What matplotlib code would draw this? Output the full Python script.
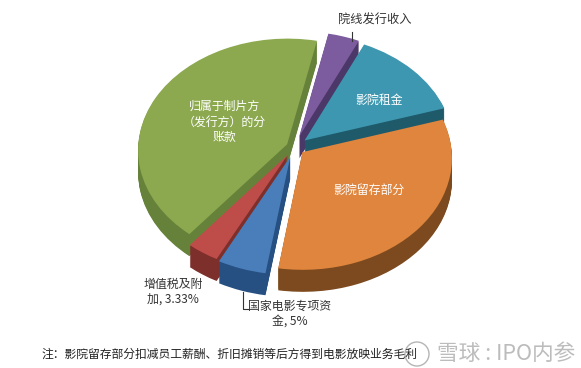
import numpy as np
import matplotlib
matplotlib.use("Agg")
import matplotlib.pyplot as plt
from matplotlib.patches import Circle
from matplotlib.transforms import Affine2D, IdentityTransform, Transform

plt.rcParams["font.family"] = ["Noto Sans CJK SC", "DejaVu Sans"]

# --- data, clockwise from the purple slice ---
names = ["院线发行收入", "影院租金", "影院留存部分", "国家电影专项资金", "增值税及附加", "归属于制片方（发行方）的分账款"]
shares = [3.6, 13.3, 32.27, 5.0, 3.33, 42.5]
explode = [0.10, 0.09, 0.07, 0.09, 0.08, 0.055]
top_colors = ["#7C5C9E", "#3E97B0", "#DF853D", "#4A7EBB", "#BE4D4A", "#8CA94F"]
wall_colors = ["#4B3768", "#1F5A6B", "#7C4A1E", "#264F82", "#7D2F2C", "#66823A"]
draw_rank = [0, 1, 3, 5, 4, 2]

W, H = 581, 368
CX, CY = 294.5, 147.0
RADIUS = 149.0
SQUASH = 0.747
DEPTH = 22
TILT = 0.05


class Perspective(Transform):
    # back of the pie gets a bit smaller, front a bit bigger
    input_dims = 2
    output_dims = 2

    def transform_non_affine(self, xy):
        s = 1 / (1 + TILT * xy[:, 1])
        return np.column_stack([xy[:, 0] * s, xy[:, 1] * s])


fig = plt.figure(figsize=(W / 100, H / 100), dpi=100)
ax = fig.add_axes([0, 0, 1, 1])

# stack of pies makes the side wall, last one is the top face
for layer in range(DEPTH + 1):
    colors = top_colors if layer == DEPTH else wall_colors
    off = (DEPTH - layer) / (RADIUS * SQUASH)
    wedges, _ = ax.pie(shares, explode=explode, colors=colors, startangle=78,
                       counterclock=False, radius=1.0, wedgeprops={"linewidth": 0})
    for w, rank in zip(wedges, draw_rank):
        w.set_zorder(rank * 100 + layer)
        w.set_transform(Perspective() + Affine2D().translate(0, -off) + ax.transData)

ax.set_aspect("auto")
ax.set_xlim(-CX / RADIUS, (W - CX) / RADIUS)
ax.set_ylim((CY - H) / (RADIUS * SQUASH), CY / (RADIUS * SQUASH))
ax.axis("off")


def px_text(x, y, s, **kw):
    fig.text(x / W, 1 - y / H, s, ha="center", va="center", **kw)


def px_line(xs, ys):
    fig.add_artist(plt.Line2D([x / W for x in xs], [1 - y / H for y in ys],
                              color="#333333", lw=0.8))


# slice labels
px_text(375, 20, "院线发行收入", fontsize=8.8, color="#333333")
px_text(379, 100, "影院租金", fontsize=8.6, color="white")
px_text(369, 190, "影院留存部分", fontsize=8.6, color="white")
px_text(224, 122, "归属于制片方\n（发行方）的分\n账款", fontsize=8.6, color="white", linespacing=1.25)
px_text(173, 292, "增值税及附\n加, 3.33%", fontsize=8.6, color="#333333", linespacing=1.2)
px_text(290, 314, "国家电影专项资\n金, 5%", fontsize=8.6, color="#333333", linespacing=1.2)
px_line([352, 352], [32, 41])
px_line([243, 243, 248], [292, 309, 309])

# footnote + watermark
fig.text(41 / W, 1 - 354 / H, "注：影院留存部分扣减员工薪酬、折旧摊销等后方得到电影放映业务毛利",
         fontsize=8.5, color="#222222", ha="left", va="center")
fig.add_artist(Circle((417, H - 354), 12, fill=False, ec="#B5B5B5", lw=1.0, transform=IdentityTransform()))
px_text(506, 354, "雪球 : IPO内参", fontsize=15.6, color="#B5B5B5", alpha=0.9)

fig.savefig("out.png", dpi=100)
